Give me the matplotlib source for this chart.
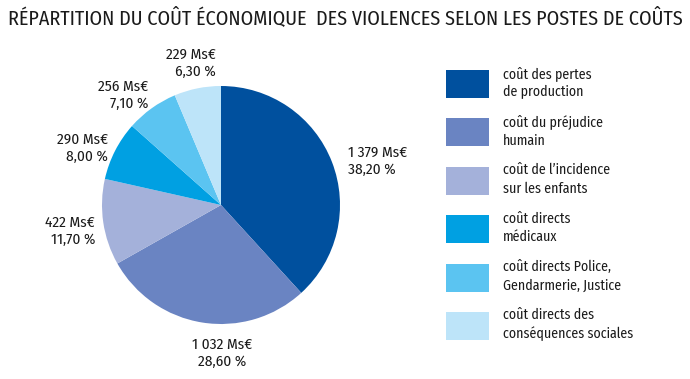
import matplotlib
matplotlib.use("Agg")
import matplotlib.pyplot as plt
from matplotlib.patches import Rectangle

plt.rcParams['font.family'] = ['Fira Sans Condensed', 'DejaVu Sans']

title = "RÉPARTITION DU COÛT ÉCONOMIQUE  DES VIOLENCES SELON LES POSTES DE COÛTS"
categories = ["coût des pertes\nde production",
              "coût du préjudice\nhumain",
              "coût de l\u2019incidence\nsur les enfants",
              "coût directs\nmédicaux",
              "coût directs Police,\nGendarmerie, Justice",
              "coût directs des\nconséquences sociales"]
values = [1379, 1032, 422, 290, 256, 229]
value_labels = ["1 379 Ms€", "1 032 Ms€", "422 Ms€", "290 Ms€", "256 Ms€", "229 Ms€"]
pct_labels = ["38,20 %", "28,60 %", "11,70 %", "8,00 %", "7,10 %", "6,30 %"]
colors = ["#00509e", "#6a84c2", "#a4b1da", "#00a0e2", "#5bc4f1", "#bde4f9"]

# label layout (pixel coords, origin top-left) and alignment
label_pos = [(348, 161), (222, 353), (95, 231), (108, 148), (148, 95), (216, 63)]
label_ha = ["left", "center", "right", "right", "right", "right"]

W, H = 690, 379
fig = plt.figure(figsize=(W / 100, H / 100), dpi=100)
ax = fig.add_axes([0, 0, 1, 1])

cx, cy, r = 221, 205, 119
wedges, _ = ax.pie(values, colors=colors, startangle=-90, counterclock=True,
                   center=(cx, cy), radius=r, frame=True,
                   wedgeprops=dict(linewidth=0))
# With inverted y axis, counterclock in data space appears clockwise on screen
ax.set_xlim(0, W)
ax.set_ylim(H, 0)
ax.set_aspect('equal')
ax.axis('off')

txt = "#1a1a1a"
fs = 11
for (x, y), ha, v, p in zip(label_pos, label_ha, value_labels, pct_labels):
    ax.text(x, y, v + "\n" + p, ha=ha, va="center", fontsize=fs, color=txt,
            linespacing=1.25)

ax.text(W / 2, 18, title, ha="center", va="center", fontsize=14.4, color=txt)

# legend
leg_x, leg_y0, leg_dy = 446, 70, 48.4
for i, (c, lab) in enumerate(zip(colors, categories)):
    y = leg_y0 + i * leg_dy
    ax.add_patch(Rectangle((leg_x, y), 43, 28, facecolor=c, edgecolor="none"))
    ax.text(503, y + 12.5, lab, ha="left", va="center", fontsize=10, color=txt,
            linespacing=1.35)

fig.savefig("out.png", dpi=100)
